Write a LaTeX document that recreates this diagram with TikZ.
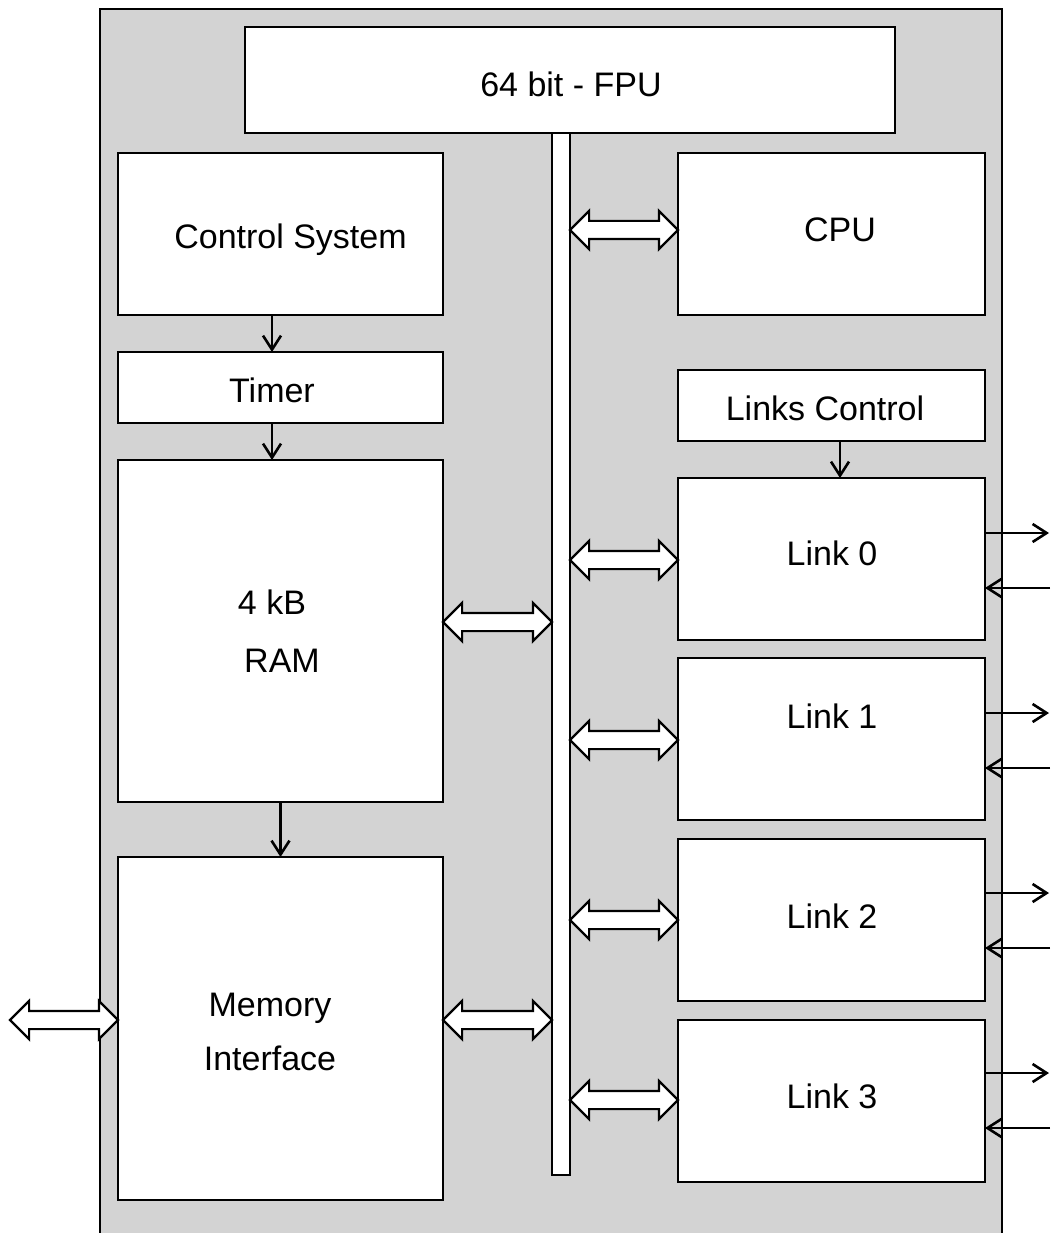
\documentclass[tikz,border=0pt]{standalone}
\usepackage{fontspec}
\setmainfont{Liberation Sans}
\usetikzlibrary{shapes.arrows,arrows.meta}
\definecolor{chipgray}{RGB}{211,211,211}
\tikzset{
  blk/.style={draw, fill=white, line width=2.6pt, inner sep=0pt, outer sep=0pt, rectangle},
  lbl/.style={anchor=base, inner sep=0pt, font=\fontsize{34}{40}\selectfont},
  dbl/.style={double arrow, draw, fill=white, line width=2.2pt, inner xsep=0pt, inner ysep=8pt, outer sep=0pt,
     minimum width=36pt, double arrow head extend=10pt, double arrow head indent=0pt, anchor=center},
  sig/.style={line width=2.4pt, -{Straight Barb[length=14pt,width=18pt,line width=2.6pt]}},
}
\begin{document}
\begin{tikzpicture}[x=1pt,y=-1pt]
\useasboundingbox (0,0) rectangle (1050,1233);
% chip outline
\fill[chipgray] (100,9) rectangle (1002,1233);
\draw[line width=2.6pt] (100,1233) -- (100,9) -- (1002,9) -- (1002,1233);
% bus and blocks
\node[blk, minimum width=18pt, minimum height=1042pt] (bus) at (561,654) {};
\node[blk, minimum width=650pt, minimum height=106pt] (fpu) at (570,80) {};
\node[blk, minimum width=325pt, minimum height=162pt] (cs) at (280.5,234) {};
\node[blk, minimum width=325pt, minimum height=71pt] (timer) at (280.5,387.5) {};
\node[blk, minimum width=325pt, minimum height=342pt] (ram) at (280.5,631) {};
\node[blk, minimum width=325pt, minimum height=343pt] (mem) at (280.5,1028.5) {};
\node[blk, minimum width=307pt, minimum height=162pt] (cpu) at (831.5,234) {};
\node[blk, minimum width=307pt, minimum height=71pt] (lc) at (831.5,405.5) {};
\node[blk, minimum width=307pt, minimum height=162pt] (l0) at (831.5,559) {};
\node[blk, minimum width=307pt, minimum height=162pt] (l1) at (831.5,739) {};
\node[blk, minimum width=307pt, minimum height=162pt] (l2) at (831.5,920) {};
\node[blk, minimum width=307pt, minimum height=162pt] (l3) at (831.5,1101) {};
% labels
\node[lbl] (tfpu) at (571,97) {64 bit - FPU};
\node[lbl] (tcs) at (290.5,249) {Control System};
\node[lbl] (ttimer) at (272,402) {Timer};
\node[lbl] (tram1) at (272,614) {4 kB};
\node[lbl] (tram2) at (282,672) {RAM};
\node[lbl] (tmem1) at (270,1016) {Memory};
\node[lbl] (tmem2) at (270,1070) {Interface};
\node[lbl] (tcpu) at (840,242) {CPU};
\node[lbl] (tlc) at (825,420) {Links Control};
\node[lbl] (tl0) at (832,565) {Link 0};
\node[lbl] (tl1) at (832,728) {Link 1};
\node[lbl] (tl2) at (832,928) {Link 2};
\node[lbl] (tl3) at (832,1108) {Link 3};
% vertical signal arrows
\draw[sig] ([xshift=-8.5pt]cs.south) -- ([xshift=-8.5pt]timer.north);
\draw[sig] ([xshift=-8.5pt]timer.south) -- ([xshift=-8.5pt]ram.north);
\draw[sig] (ram.south) -- (mem.north);
\draw[sig] ([xshift=8.5pt]lc.south) -- ([xshift=8.5pt]l0.north);
% bus double arrows
\node[dbl, minimum height=108pt] (acpu) at (624,230) {};
\node[dbl, minimum height=108pt] (al0) at (624,560) {};
\node[dbl, minimum height=108pt] (al1) at (624,740) {};
\node[dbl, minimum height=108pt] (al2) at (624,920) {};
\node[dbl, minimum height=108pt] (al3) at (624,1100) {};
\node[dbl, minimum height=109pt] (aram) at (497.5,622) {};
\node[dbl, minimum height=109pt] (amem) at (497.5,1020) {};
\node[dbl, minimum height=108pt] (aext) at (64,1020) {};
% link serial lines
\foreach \l/\yo/\yi in {l0/533/588, l1/713/768, l2/893/948, l3/1073/1128}{
  \coordinate (\l out) at (1049,\yo);
  \coordinate (\l in) at (1050,\yi);
  \draw[sig] (\l.east |- \l out) -- (\l out);
  \draw[sig] (\l in) -- (\l.east |- \l in);
}
\end{tikzpicture}
\end{document}
